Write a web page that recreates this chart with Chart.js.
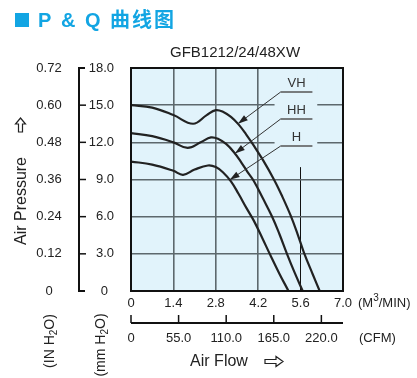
<!DOCTYPE html>
<html>
<head>
<meta charset="utf-8">
<script src="https://cdn.jsdelivr.net/npm/chart.js@4.4.0/dist/chart.umd.min.js"></script>
<style>
  html, body { margin: 0; padding: 0; background: #fff; }
  #wrap { width: 417px; height: 378px; position: relative; }
</style>
</head>
<body>
<div id="wrap"><canvas id="pq"></canvas></div>
<script>
// кривые P-Q: расход (м3/мин) и давление (мм H2O)
const flowVH  = [0, 0.7, 1.4, 2.05, 2.5, 2.8, 3.05, 3.3, 3.55, 3.8, 4.05, 4.35, 4.72, 5.0, 5.27, 5.5, 5.71, 6.0, 6.23];
const pressVH = [15.0, 14.8, 14.2, 13.5, 14.2, 14.6, 14.45, 14.05, 13.45, 12.65, 11.75, 10.6, 9.0, 7.6, 6.1, 4.6, 3.1, 1.35, 0];
const flowHH  = [0, 0.7, 1.4, 1.87, 2.3, 2.64, 2.9, 3.15, 3.4, 3.65, 3.85, 4.05, 4.35, 4.66, 4.9, 5.15, 5.4, 5.67];
const pressHH = [12.75, 12.5, 12.0, 11.55, 12.0, 12.4, 12.25, 11.85, 11.2, 10.35, 9.6, 8.9, 7.5, 6.0, 4.6, 3.0, 1.5, 0];
const flowH   = [0, 0.7, 1.4, 1.72, 2.1, 2.54, 2.8, 3.05, 3.3, 3.55, 3.8, 4.05, 4.33, 4.6, 4.9, 5.2];
const pressH  = [10.45, 10.2, 9.7, 9.38, 9.8, 10.13, 10.0, 9.55, 8.85, 7.85, 6.75, 5.7, 4.3, 2.9, 1.4, 0];

// подписи осей
const flowTicks = [0, 1.4, 2.8, 4.2, 5.6, 7.0];
const cfmTicks = [0, 55, 110, 165, 220];
const mmTicks = [0, 3, 6, 9, 12, 15, 18];
const inTicks = [0, 0.12, 0.24, 0.36, 0.48, 0.60, 0.72];

// метки кривых: имя, точка на кривой (стрелка), начало выноски
const curveNames = ['VH', 'HH', 'H'];
const arrowTips = [[3.53, 13.5], [3.43, 11.1], [3.26, 8.97]];
const labelLines = [[4.94, 16.06], [4.94, 13.88], [4.94, 11.7]];

const FONT = "'Liberation Sans', Arial, sans-serif";
const TXT = '#222';
const BG = '#e1f3fb';

function toPoints(xs, ys) {
    return xs.map((x, i) => ({ x: x, y: ys[i] }));
}

function fmt(v, d) {
    return v === 0 ? '0' : v.toFixed(d);
}

// текст с подстрочными/надстрочными частями
function drawRich(ctx, parts, x, y, align) {
    let w = 0;
    parts.forEach(p => {
        ctx.font = p.size + 'px ' + FONT;
        w += ctx.measureText(p.t).width;
    });
    let cx = align === 'center' ? x - w / 2 : x;
    ctx.textAlign = 'left';
    ctx.textBaseline = 'middle';
    parts.forEach(p => {
        ctx.font = p.size + 'px ' + FONT;
        ctx.fillText(p.t, cx, y + (p.dy || 0));
        cx += ctx.measureText(p.t).width;
    });
}

const decor = {
    id: 'decor',
    beforeDraw(chart) {
        const { ctx, chartArea: a } = chart;
        ctx.save();
        ctx.fillStyle = '#fff';
        ctx.fillRect(0, 0, chart.width, chart.height);
        ctx.fillStyle = BG;
        ctx.fillRect(a.left, a.top, a.right - a.left, a.bottom - a.top);
        ctx.restore();
    },
    beforeDatasetsDraw(chart) {
        // подложка под подписями кривых закрывает сетку
        const { ctx, scales: { x, y } } = chart;
        ctx.save();
        ctx.fillStyle = BG;
        const x0 = x.getPixelForValue(4.74), x1 = x.getPixelForValue(6.15);
        const y0 = y.getPixelForValue(18), y1 = y.getPixelForValue(10.0);
        ctx.fillRect(x0, y0 + 1, x1 - x0, y1 - y0 - 1);
        ctx.restore();
    },
    afterDatasetsDraw(chart) {
        const { ctx, chartArea: a, scales: { x, y, xc, yi } } = chart;
        ctx.save();

        // рамка
        ctx.strokeStyle = '#111';
        ctx.lineWidth = 2;
        ctx.strokeRect(a.left, a.top, a.right - a.left, a.bottom - a.top);

        // подписи кривых и выноски
        curveNames.forEach((name, i) => {
            const lx = x.getPixelForValue(labelLines[i][0]);
            const ly = y.getPixelForValue(labelLines[i][1]);
            const lx2 = x.getPixelForValue(5.99);
            const tx = x.getPixelForValue(arrowTips[i][0]);
            const ty = y.getPixelForValue(arrowTips[i][1]);

            ctx.strokeStyle = '#555';
            ctx.lineWidth = 1.5;
            ctx.beginPath();
            ctx.moveTo(lx, ly);
            ctx.lineTo(lx2, ly);
            ctx.stroke();

            ctx.strokeStyle = '#333';
            ctx.lineWidth = 1;
            ctx.beginPath();
            ctx.moveTo(lx, ly);
            ctx.lineTo(tx, ty);
            ctx.stroke();

            const ang = Math.atan2(ty - ly, tx - lx);
            const len = 10, hw = 3.2;
            ctx.fillStyle = '#222';
            ctx.beginPath();
            ctx.moveTo(tx, ty);
            ctx.lineTo(tx - len * Math.cos(ang) + hw * Math.sin(ang), ty - len * Math.sin(ang) - hw * Math.cos(ang));
            ctx.lineTo(tx - len * Math.cos(ang) - hw * Math.sin(ang), ty - len * Math.sin(ang) + hw * Math.cos(ang));
            ctx.closePath();
            ctx.fill();

            ctx.fillStyle = '#333';
            ctx.font = '13px ' + FONT;
            ctx.textAlign = 'center';
            ctx.textBaseline = 'middle';
            ctx.fillText(name, (lx + lx2) / 2, ly - 9);
        });

        ctx.fillStyle = TXT;
        ctx.strokeStyle = '#111';

        // шкала мм H2O (скобка слева)
        const bx = 79;
        ctx.lineWidth = 2;
        ctx.beginPath();
        ctx.moveTo(bx + 6, y.getPixelForValue(18));
        ctx.lineTo(bx, y.getPixelForValue(18));
        ctx.lineTo(bx, y.getPixelForValue(0));
        ctx.lineTo(bx + 6, y.getPixelForValue(0));
        ctx.stroke();
        ctx.lineWidth = 1.5;
        mmTicks.slice(1, -1).forEach(v => {
            const py = y.getPixelForValue(v);
            ctx.beginPath();
            ctx.moveTo(bx, py);
            ctx.lineTo(bx + 7, py);
            ctx.stroke();
        });
        ctx.font = '13px ' + FONT;
        ctx.textBaseline = 'middle';
        ctx.textAlign = 'right';
        mmTicks.forEach(v => {
            ctx.fillText(fmt(v, 1), v === 0 ? 108 : 114, y.getPixelForValue(v));
        });

        // шкала дюймов H2O
        ctx.textAlign = 'center';
        inTicks.forEach(v => {
            ctx.fillText(fmt(v, 2), 49, yi.getPixelForValue(v));
        });

        // ось расхода м3/мин
        flowTicks.forEach(v => {
            ctx.fillText(fmt(v, 1), x.getPixelForValue(v), 303);
        });
        drawRich(ctx, [{ t: '(M', size: 13 }, { t: '3', size: 10, dy: -5 }, { t: '/MIN)', size: 13 }], 358, 303, 'left');

        // ось CFM
        const cy = 323;
        ctx.lineWidth = 2;
        ctx.beginPath();
        ctx.moveTo(a.left, cy);
        ctx.lineTo(a.right, cy);
        ctx.stroke();
        ctx.lineWidth = 1.5;
        cfmTicks.forEach(v => {
            const px = xc.getPixelForValue(v);
            ctx.beginPath();
            ctx.moveTo(px, cy);
            ctx.lineTo(px, cy - 8);
            ctx.stroke();
        });
        ctx.font = '13px ' + FONT;
        ctx.textAlign = 'center';
        ctx.textBaseline = 'middle';
        cfmTicks.forEach(v => {
            ctx.fillText(fmt(v, 1), xc.getPixelForValue(v), 338);
        });
        ctx.textAlign = 'left';
        ctx.fillText('(CFM)', 359, 338);

        // заголовки осей
        ctx.font = '16px ' + FONT;
        ctx.textAlign = 'center';
        ctx.fillText('Air Flow', 219, 362);
        ctx.save();
        ctx.translate(22, 201);
        ctx.rotate(-Math.PI / 2);
        ctx.fillText('Air Pressure', 0, 0);
        ctx.restore();

        // единицы по вертикали
        ctx.save();
        ctx.translate(50, 341);
        ctx.rotate(-Math.PI / 2);
        drawRich(ctx, [{ t: '(IN H', size: 14 }, { t: '2', size: 10, dy: 4 }, { t: 'O)', size: 14 }], 0, 0, 'center');
        ctx.restore();
        ctx.save();
        ctx.translate(101, 345);
        ctx.rotate(-Math.PI / 2);
        drawRich(ctx, [{ t: '(mm H', size: 14 }, { t: '2', size: 10, dy: 4 }, { t: 'O)', size: 14 }], 0, 0, 'center');
        ctx.restore();

        // контурные стрелки
        ctx.strokeStyle = '#222';
        ctx.lineWidth = 1.2;
        ctx.beginPath();
        ctx.moveTo(20.5, 118);
        ctx.lineTo(25.5, 124);
        ctx.lineTo(22.5, 124);
        ctx.lineTo(22.5, 132);
        ctx.lineTo(18.5, 132);
        ctx.lineTo(18.5, 124);
        ctx.lineTo(15.5, 124);
        ctx.closePath();
        ctx.stroke();
        ctx.beginPath();
        ctx.moveTo(283, 361.5);
        ctx.lineTo(276, 356.5);
        ctx.lineTo(276, 359.5);
        ctx.lineTo(265, 359.5);
        ctx.lineTo(265, 363.5);
        ctx.lineTo(276, 363.5);
        ctx.lineTo(276, 366.5);
        ctx.closePath();
        ctx.stroke();

        // заголовок
        ctx.fillStyle = '#12a5e3';
        ctx.fillRect(15, 13, 14, 14);
        ctx.font = "bold 20px 'Liberation Sans', 'Noto Sans CJK SC', sans-serif";
        ctx.textAlign = 'left';
        ctx.textBaseline = 'middle';
        ctx.letterSpacing = '2px';
        ctx.fillText('P & Q 曲线图', 38, 21);
        ctx.letterSpacing = '0px';

        ctx.fillStyle = TXT;
        ctx.font = '15px ' + FONT;
        ctx.textAlign = 'center';
        ctx.fillText('GFB1212/24/48XW', 235, 53);

        ctx.restore();
    }
};

const lineStyle = {
    showLine: true,
    pointRadius: 0,
    borderColor: '#222',
    borderWidth: 2.2,
    tension: 0.4,
    fill: false
};

const gridColor = ctx => (Math.abs(ctx.tick.value - 5.6) < 0.01 ? '#111' : '#5d686d');
const gridWidth = ctx => (Math.abs(ctx.tick.value - 5.6) < 0.01 ? 1 : 1.6);

new Chart(document.getElementById('pq'), {
    type: 'scatter',
    data: {
        datasets: [
            Object.assign({ label: 'VH', data: toPoints(flowVH, pressVH) }, lineStyle),
            Object.assign({ label: 'HH', data: toPoints(flowHH, pressHH) }, lineStyle),
            Object.assign({ label: 'H', data: toPoints(flowH, pressH) }, lineStyle)
        ]
    },
    options: {
        responsive: true,
        maintainAspectRatio: false,
        animation: false,
        layout: { padding: { left: 131, right: 74, top: 68, bottom: 87 } },
        plugins: { legend: { display: false }, tooltip: { enabled: false } },
        scales: {
            x: {
                type: 'linear', min: 0, max: 7,
                ticks: { display: false, stepSize: 1.4 },
                afterBuildTicks: s => { s.ticks = flowTicks.map(v => ({ value: v })); },
                grid: { color: gridColor, lineWidth: gridWidth, drawTicks: false },
                border: { display: false }
            },
            y: {
                type: 'linear', min: 0, max: 18,
                ticks: { display: false, stepSize: 3 },
                grid: { color: '#5d686d', lineWidth: 1.6, drawTicks: false },
                border: { display: false }
            },
            xc: { type: 'linear', position: 'bottom', min: 0, max: 245, display: false },
            yi: { type: 'linear', position: 'left', min: 0, max: 0.72, display: false }
        }
    },
    plugins: [decor]
});
</script>
</body>
</html>
